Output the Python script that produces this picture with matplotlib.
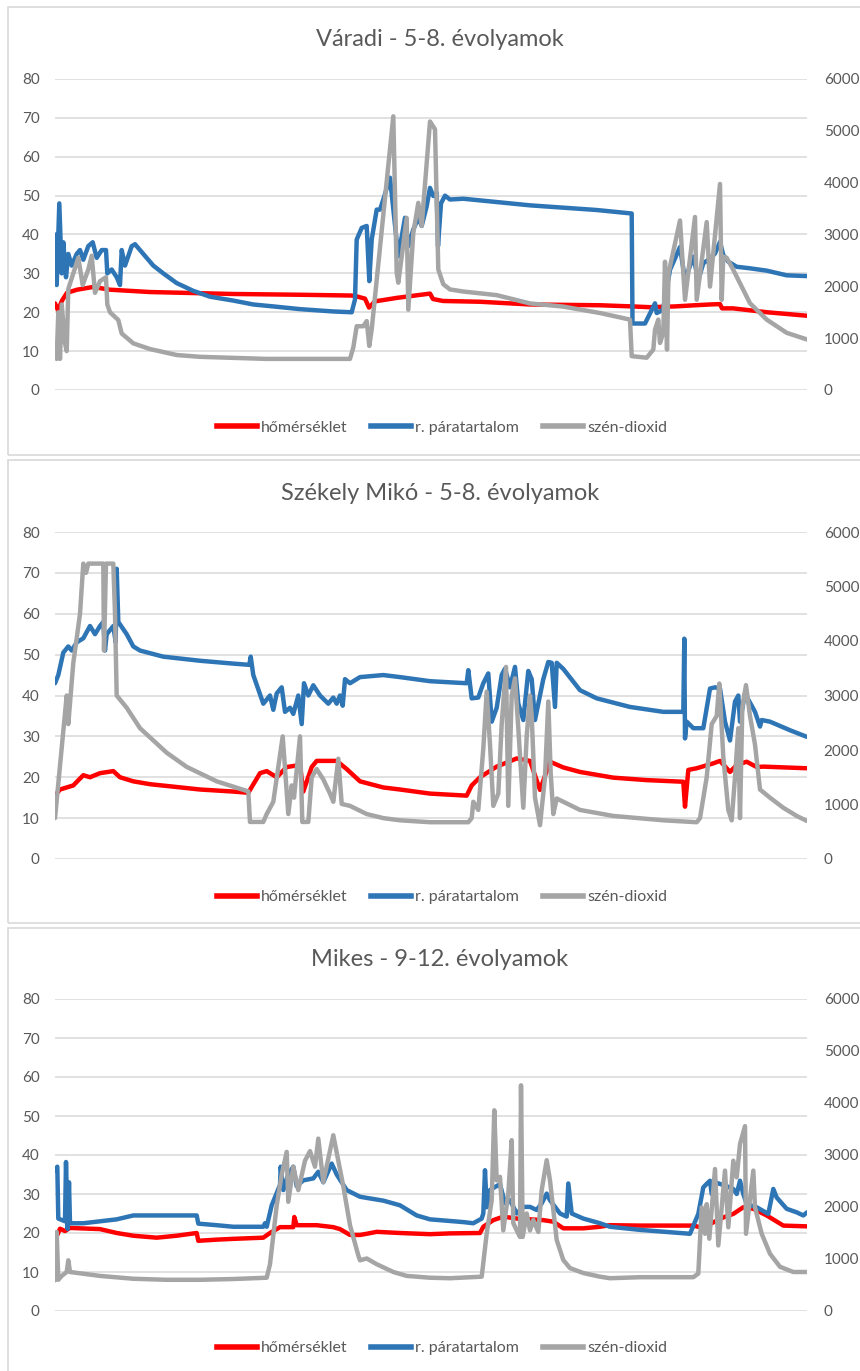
import matplotlib
matplotlib.use("Agg")
import matplotlib.pyplot as plt
from matplotlib.patches import Rectangle
from matplotlib.lines import Line2D

plt.rcParams['font.family'] = ['Lato', 'DejaVu Sans']

# ---------------- data (sample index along the measurement period) ----------------
titles = ["Váradi - 5-8. évolyamok", "Székely Mikó - 5-8. évolyamok", "Mikes - 9-12. évolyamok"]
series_names = ["hőmérséklet", "r. páratartalom", "szén-dioxid"]
left_ticks = [0, 10, 20, 30, 40, 50, 60, 70, 80]
right_ticks = [0, 1000, 2000, 3000, 4000, 5000, 6000]

# Panel 1 – Váradi
p1_temp_t = [0,3,7,12,22,38,55,95,178,245,296,300,310,314,320,342,375,378,388,425,
             475,545,577,595,620,640,655,665,667,678,712,752]
p1_temp = [22.3,20.5,23,25,25.8,26.5,25.8,25.2,24.7,24.5,24.3,24.2,23.5,21.2,22.8,23.7,24.8,23.4,22.9,22.7,
           22.0,21.8,21.5,21.3,21.5,21.8,22.0,22.1,21.0,21.0,20.0,19.1]
p1_hum_t = [0,1.7,4.3,6.7,8.3,11,13.3,16.7,21.7,25, 28.3,33.3,37.7,41.7,46.7,51,52.3,56.7,61.7,65,
            66.7,70,76.7,80,88.3,98.3,108.3,121.7,138.3,155, 178.3,198.3,218.3,245,278.3,296.7,300,301.7,306.7,311.7,
            314.3,316.7,321.7,325,328.3,335,343.3,350,353.3,358.3, 363.3,366.7,371.7,375,378.3,381.7,383,386,390,395,
            408.3,475,541.7,576.7,577.5,590,600,601.7,608,615, 625,630,638.3,643.3,648.3,655,660,665,668.3,673.3,
            681.7,695,711.7,731.7,752]
p1_hum = [40,27,48,30,38,29,35,32,35,36, 33.5,37,38,34,36,36,30,31,29,27,
          36,32,37,37.5,35,32,30,27.5,25.5,24, 23,22,21.5,20.8,20.2,20.0,23.3,38.7,41.7,42.2,
          28,38.7,46.4,46.4,49,54.6,34.4,44.3,37,41.3, 44.3,42.2,47.3,52,49.9,50.7,37,48,50,49,
          49.2,47.5,46.3,45.4,17.1,17.1,22.3,19.8,20.6,30.9, 36.8,28.3,34.3,28.3,32.6,33.8,35.1,38.1,34.7,33,
          31.7,31.3,30.7,29.5,29.3]
p1_co2_t = [0,1.7,3.3,5,6.7,10,11.7,13.3,18.3,23.3, 27.7,33.3,36.7,40,45,51,52.3,55,63.3,66.7,
            78.3,95,121.7,145,211.7,295,298.3,301.7,308.3,311.7, 314.3,316.7,338.3,341.7,343.3,351.7,353.3,358.3,363.3,366.7,
            375,380,383.3,388.3,395,408.3,441.7,475,508,545, 575,576.7,591.7,598.3,600,603.3,605,608.3,610,612,
            613.5,625,630,640,641.7,651.7,655,665,666.7,668.3, 671.7,678.3,695,711.7,731.7,752]
p1_co2 = [750,600,1500,600,1650,900,750,1950,2250,2550, 2025,2325,2590,1875,2100,2175,1650,1500,1350,1090,
          900,790,675,640,600,600,820,1230,1230,1330, 850,1170,5280,2265,2070,3320,1550,3030,3610,3165,
          5180,5030,2325,2040,1940,1900,1830,1670,1610,1485, 1358,653,623,780,1163,1358,908,1103,2475,780,
          2250,3270,1740,3338,1740,3240,1995,3975,1740,2573, 2550,2318,1673,1358,1103,975]

# Panel 2 – Székely Mikó
p2_temp_t = [0,5,18.3,28.3,35,45,58.3,65,78.3,95, 118.3,145,178.3,193.3,205,211.7,221.7,231.7,245,248.3,
             256.7,261.7,281.7,291.7,305,328.3,345,375,411.7,416.7, 425,441.7,461.7,475,485,495,508.3,525,558.3,591.7,
             628.3,630,633.3,641.7,658.3,665,675,681.7,691.7,701.7, 708.3,751.7]
p2_temp = [15.5,17,18,20.5,20,21,21.5,20,19,18.3, 17.7,17,16.5,16.2,21,21.5,20,22.5,23,16.5,
           22.5,24,24,22,19,17.5,17,16,15.5,18, 20,22.6,24.6,24,16.9,23.8,22.4,21.3,19.9,19.3,
           18.9,12.8,21.8,22.2,23.4,24,21.3,23,23.8,22.5, 22.6,22.2]
p2_hum_t = [0,3.3,8.3,13.3,16.7,21.7,28.3,35,40,45, 48.3,50,51.7,58.3,60.7,61.7,63.3,71.7,78.3,85,
            108.3,145,178.3,194.3,195.7,198.3,208.3,215,218.3,221.7, 226.7,230,235,238.3,243.3,246.7,249,253.3,258.3,265,
            273.3,278.3,281.7,285,287.7,290,295,305,328.3,345, 375,411.7,413.3,416.7,423.3,428.3,433.3,436.7,441.7,446.7,
            450,455,460,463.3,468.3,473.3,476.7,480,483.3,488.3, 493.3,496.7,500,501.7,508.3,525,541.7,575,608.3,628.3,
            629.3,630,631.7,638.3,648.3,655,660,665,670,675, 680,683.3,685,690,700,705,706.7,715,735,751.7]
p2_hum = [43,45,50.5,52,51,53,54,57,55,57, 58,51,55,57,53,71,58,55,52,51,
          49.5,48.5,47.8,47.5,49.5,45,38,40,36.5,40.5, 42,36,37,35.5,40,33,43,40,42.5,40,
          38,39.5,38,40,37.5,44,43,44.5,45,44.5, 43.5,43,46.2,39.3,39.5,43,45.4,33.6,37,45,
          46.6,42,47,38,34,46,44,34,38,44, 48.2,48,37.2,48,46.5,41.3,39.3,37.2,36,36,
          53.9,29.5,33.6,32,32,41.7,42,41.7,33.6,29, 38.5,40,33.6,40.5,36,32.4,34,33.6,31.5,29.9]
p2_co2_t = [0,11.7,13.3,18.3,21.7,25,28.3,31,33.3,48.3, 49,51,58.3,60,61.7,71.7,85,111.7,131.7,161.7,
            193.3,195,208.3,211.7,218.3,227.7,233.3,236.7,239,245, 247.3,253.3,256.7,261.7,268.3,275,278.3,283.3,286.7,295,
            311.7,328.3,345,375,413.3,416.7,418.3,423.3,428.3,431.7, 435,438.3,443.3,446.7,451,453.3,456.7,460,463.3,468.3,
            471.7,475,476.7,480,485,490,493.3,495.7,498.3,501.7, 525,558.3,608.3,641.7,645,651.7,656.7,661.7,664.3,668.3,
            673.3,676.7,680,683.3,685,687.3,691,695,700,705, 715,728.3,741.7,751.7]
p2_co2 = [750,3000,2475,3600,4050,4500,5420,5250,5420,5420, 3825,5420,5420,4500,3000,2775,2400,1950,1690,1425,
          1240,680,680,825,1050,2250,825,1350,1125,2250, 680,680,1500,1650,1460,1200,1050,1840,1010,975,
          825,750,710,675,675,750,1050,900,2025,3070, 2100,975,1200,2475,3525,975,3000,3315,2400,940,
          2250,3000,2625,1125,620,1500,2890,1575,825,1110, 900,790,710,675,750,1500,2475,2625,3220,1875,
          900,710,1500,2400,750,2775,3190,2625,2100,1275, 1125,940,790,700]

# Panel 3 – Mikes
p3_temp_t = [0,5,10,15,45,61.7,78.3,101.7,121.7,141.7, 143.3,161.7,178.3,208.3,215,225,238.3,239.3,241.7,261.7,
             278.3,285,295,305,311.7,321.7,345,375,395,425, 428.3,438.3,448.3,461.7,488.3,498.3,508.3,528.3,545,555,
             585,638.3,645,655,668.3,678.3,688.3,698.3,711.7,728.3, 752]
p3_temp = [18.1,21.1,20.5,21.3,21,20,19.3,18.8,19.3,20, 18,18.3,18.5,18.8,20,21.5,21.5,24.1,22,22,
           21.5,21,19.5,19.5,19.8,20.3,20,19.7,19.9,20, 21.6,23.3,24.2,23.7,23.3,22.9,21.2,21.2,21.6,22,
           21.9,21.9,21.5,22.3,24,24.9,26.6,26.2,24.5,21.9, 21.7]
p3_hum_t = [0,2.3,3.3,10,11,12.7,14,15,28.3,45, 61.7,78.3,141.7,143.3,161.7,178.3,208.3,210,211.7,216.7,
            225,225.7,228.3,233.3,238.3,241.7,248.3,258.3,263.3,268.3, 276.7,281.7,291.7,305,311.7,328.3,345,361.7,375,408.3,
            418.3,426.7,428.3,430,431.7,435,440,445,450,455, 461.7,468.3,475,481.7,486.7,491.7,495,505,511.7,513.3,
            516.7,528.3,545,555,585,635,643.3,648.3,651.7,655, 656.7,660,671.7,678.3,681.7,685,688.3,691.7,701.7,713.3,
            718.3,721.7,731.7,741.7,748.3,752]
p3_hum = [36,37,23.7,23,38.2,21,33,22.5,22.5,23, 23.5,24.5,24.5,22.4,22,21.6,21.6,22.5,21.6,27.1,
          32.3,37,31,35,37,32,33.5,34,35.7,33, 37.8,35,31,29.3,29,28.3,27.1,24.5,23.5,22.8,
          22.5,23.7,25,36.1,26.6,31,31.8,32.5,27.6,28.4, 25,26.7,26.7,25.9,27.6,30.1,28.4,25,24.2,32.7,
          25,23.7,22.5,21.6,20.8,19.8,24.9,31.7,32.6,33.4, 30,33,32,31.3,30,33.4,30,27.4,26.6,24.9,
          31.3,29.1,26.2,25.3,24.5,25.3]
p3_co2_t = [0,1.7,3.3,6.7,11.7,13.3,15,45,78.3,111.7, 145,178.3,211.7,215,221.7,226.7,231.7,233.3,238.3,243.3,
            250,255,260,263.3,268.3,278.3,288.3,295,303.3,305, 311.7,321.7,338.3,351.7,375,395,426.7,431.7,436.7,439.3,
            441.7,445,448.3,453.3,456.7,458.3,461.7,465,466,467.7, 471.7,475,478.3,483.3,486.7,491.7,495,501.7,508.3,515,
            528.3,545,555,585,638.3,643.3,646.7,650,651.7,654.3, 660,663.3,670,673.3,678.3,681.7,685,690,691,698.3,
            700,706.7,715,725,738.3,752]
p3_co2 = [590,1520,600,675,750,975,750,675,620,600, 600,615,640,900,2030,2625,3060,2100,2775,2325,
          2890,3075,2775,3315,2480,3380,2400,1650,1070,975, 1010,900,750,675,640,630,660,1490,2130,3860,
          2510,2580,1550,2260,3285,1690,1550,1425,4340,1425, 1875,1550,1750,1520,2325,2900,2510,1365,980,825,
          730,660,630,650,650,720,1995,1485,2055,1390, 2730,1260,2700,1610,2890,2570,3210,3555,1485,2700,
          1995,1485,1100,850,750,750]

panels = [
    (p1_temp_t, p1_temp, p1_hum_t, p1_hum, p1_co2_t, p1_co2),
    (p2_temp_t, p2_temp, p2_hum_t, p2_hum, p2_co2_t, p2_co2),
    (p3_temp_t, p3_temp, p3_hum_t, p3_hum, p3_co2_t, p3_co2),
]

# ---------------- style / layout ----------------
W, H = 860, 1371
C_TEMP, C_HUM, C_CO2 = "#FF0000", "#2E75B6", "#A5A5A5"
TXT = "#595959"
GRID = "#D9D9D9"
LW = 3.2

# pixel layout: (y of 80 line, y of 0 line, title y, legend y, frame top, frame bottom)
layout = [
    (79, 390, 40, 428, 7, 455),
    (532, 859, 493, 897, 460, 923),
    (999, 1311, 960, 1348, 928, 1385),
]
x_left, x_right = 55, 807

fig = plt.figure(figsize=(W / 100, H / 100), dpi=100)
fig.patch.set_facecolor("white")

for (data, title, lay) in zip(panels, titles, layout):
    tt, tv, ht, hv, ct, cv = data
    y80, y0, ty, ly, ftop, fbot = lay
    # frame
    fig.patches.append(Rectangle((8 / W, 1 - fbot / H), (W + 20) / W, (fbot - ftop) / H,
                                 transform=fig.transFigure, fill=False,
                                 edgecolor=GRID, linewidth=1.2, zorder=0))
    ax = fig.add_axes([x_left / W, 1 - y0 / H, (x_right - x_left) / W, (y0 - y80) / H])
    ax.set_xlim(0, 752)
    ax.set_ylim(0, 80)
    ax.set_yticks(left_ticks)
    ax.set_xticks([])
    ax.yaxis.grid(True, color=GRID, linewidth=1.1)
    ax.set_axisbelow(True)
    for s in ax.spines.values():
        s.set_visible(False)
    ax.tick_params(axis="y", length=0, pad=11, labelsize=11, labelcolor=TXT)
    ax.patch.set_alpha(0)
    ax.plot(tt, tv, color=C_TEMP, lw=LW, solid_joinstyle="round", solid_capstyle="round")
    ax.plot(ht, hv, color=C_HUM, lw=LW, solid_joinstyle="round", solid_capstyle="round")

    ax2 = ax.twinx()
    ax2.set_ylim(0, 6000)
    ax2.set_yticks(right_ticks)
    for s in ax2.spines.values():
        s.set_visible(False)
    ax2.tick_params(axis="y", length=0, pad=12, labelsize=11, labelcolor=TXT)
    ax2.plot(ct, cv, color=C_CO2, lw=LW, solid_joinstyle="round", solid_capstyle="round")

    fig.text(440 / W, 1 - ty / H, title, ha="center", va="center", fontsize=17, color=TXT)

    handles = [Line2D([], [], color=c, lw=4) for c in (C_TEMP, C_HUM, C_CO2)]
    fig.legend(handles, series_names, loc="center", bbox_to_anchor=(442 / W, 1 - ly / H),
               ncol=3, frameon=False, fontsize=11.5, handlelength=2.5, handletextpad=0.25,
               columnspacing=1.5, labelcolor=TXT)

fig.savefig("out.png", dpi=100, facecolor="white")
